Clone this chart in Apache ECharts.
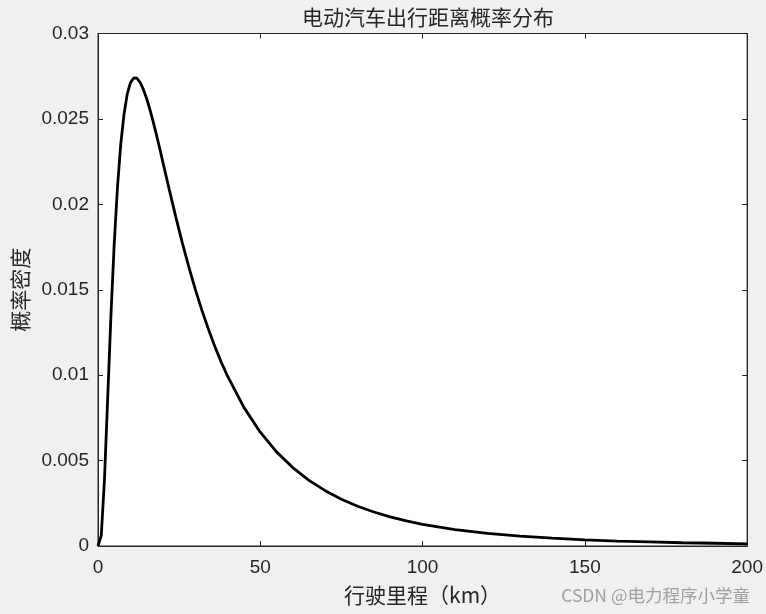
<!DOCTYPE html>
<html>
<head>
<meta charset="utf-8">
<script src="https://cdn.jsdelivr.net/npm/echarts@6/dist/echarts.min.js"></script>
<style>
html,body{margin:0;padding:0;background:#f0f0f0;}
#c{width:766px;height:614px;}
</style>
</head>
<body>
<div id="c"></div>
<script>
// Data
const distanceKm = [0,1,2,3,4,5,6,7,8,9,10,11,12,13,14,15,16,17,18,19,20,22,24,26,28,30,32,34,36,38,40,45,50,55,60,65,70,75,80,85,90,95,100,110,120,130,140,150,160,170,180,190,200];
const density = [0,0.00061,0.00392,0.00873,0.01355,0.01770,0.02100,0.02350,0.02525,0.02645,0.02712,0.02740,0.02738,0.02713,0.02672,0.02618,0.02555,0.02484,0.02408,0.02328,0.02246,0.02083,0.01924,0.01773,0.01632,0.01501,0.01381,0.01270,0.01168,0.01075,0.00991,0.00810,0.00666,0.00551,0.00459,0.00384,0.00324,0.00274,0.00233,0.00199,0.00170,0.00147,0.00127,0.00096,0.00074,0.00058,0.00046,0.00036,0.00029,0.00024,0.00019,0.00016,0.00013];
const xTicks = [0,50,100,150,200];
const yTicks = [0,0.005,0.01,0.015,0.02,0.025,0.03];
const titleText = '电动汽车出行距离概率分布';
const xName = '行驶里程（km）';
const yName = '概率密度';
const watermark = 'CSDN @电力程序小学童';

const chart = echarts.init(document.getElementById('c'));
const axisColor = '#262626';
const latin = 'Liberation Sans, Arial, Helvetica, sans-serif';
const cjk = '"Noto Sans CJK SC", sans-serif';
const pairs = distanceKm.map((x,i)=>[x,density[i]]);
const commonTick = {show:true, inside:true, length:5, lineStyle:{color:axisColor}};
chart.setOption({
  backgroundColor:'#f0f0f0',
  animation:false,
  title:{text:titleText, left:423, top:2, textAlign:'center',
    textStyle:{fontFamily:cjk, fontSize:21, fontWeight:'normal', color:axisColor}},
  grid:{left:98, right:18, top:33.5, bottom:68, show:true, backgroundColor:'#ffffff', borderColor:axisColor, borderWidth:1},
  xAxis:[{
    type:'value', min:xTicks[0], max:xTicks[xTicks.length-1], interval:50,
    axisLine:{show:true, onZero:false, lineStyle:{color:axisColor}},
    axisTick:commonTick, splitLine:{show:false},
    axisLabel:{color:axisColor, fontFamily:latin, fontSize:19, margin:12},
    name:xName, nameLocation:'middle', nameGap:39,
    nameTextStyle:{fontFamily:cjk, fontSize:21, color:axisColor}
  },{
    type:'value', position:'top', min:xTicks[0], max:xTicks[xTicks.length-1], interval:50,
    axisLine:{show:true, onZero:false, lineStyle:{color:axisColor}},
    axisTick:commonTick, axisLabel:{show:false}, splitLine:{show:false}
  }],
  yAxis:[{
    type:'value', min:yTicks[0], max:yTicks[yTicks.length-1], interval:0.005,
    axisLine:{show:true, onZero:false, lineStyle:{color:axisColor}},
    axisTick:commonTick, splitLine:{show:false},
    axisLabel:{color:axisColor, fontFamily:latin, fontSize:19, margin:9,
      formatter:v=>String(+v.toFixed(3))},
    name:yName, nameLocation:'middle', nameGap:65, nameRotate:90,
    nameTextStyle:{fontFamily:cjk, fontSize:21, color:axisColor}
  },{
    type:'value', position:'right', min:yTicks[0], max:yTicks[yTicks.length-1], interval:0.005,
    axisLine:{show:true, onZero:false, lineStyle:{color:axisColor}},
    axisTick:commonTick, axisLabel:{show:false}, splitLine:{show:false}
  }],
  graphic:[{type:'text', right:16, top:587,
    style:{text:watermark, fill:'#a0a0a0', font:'17.5px "Noto Sans CJK SC", sans-serif'}}],
  series:[{
    type:'line', data:pairs, xAxisIndex:0, yAxisIndex:0, showSymbol:false,
    smooth:false, lineStyle:{color:'#000000', width:2.8}, clip:true
  }]
});
</script>
</body>
</html>
